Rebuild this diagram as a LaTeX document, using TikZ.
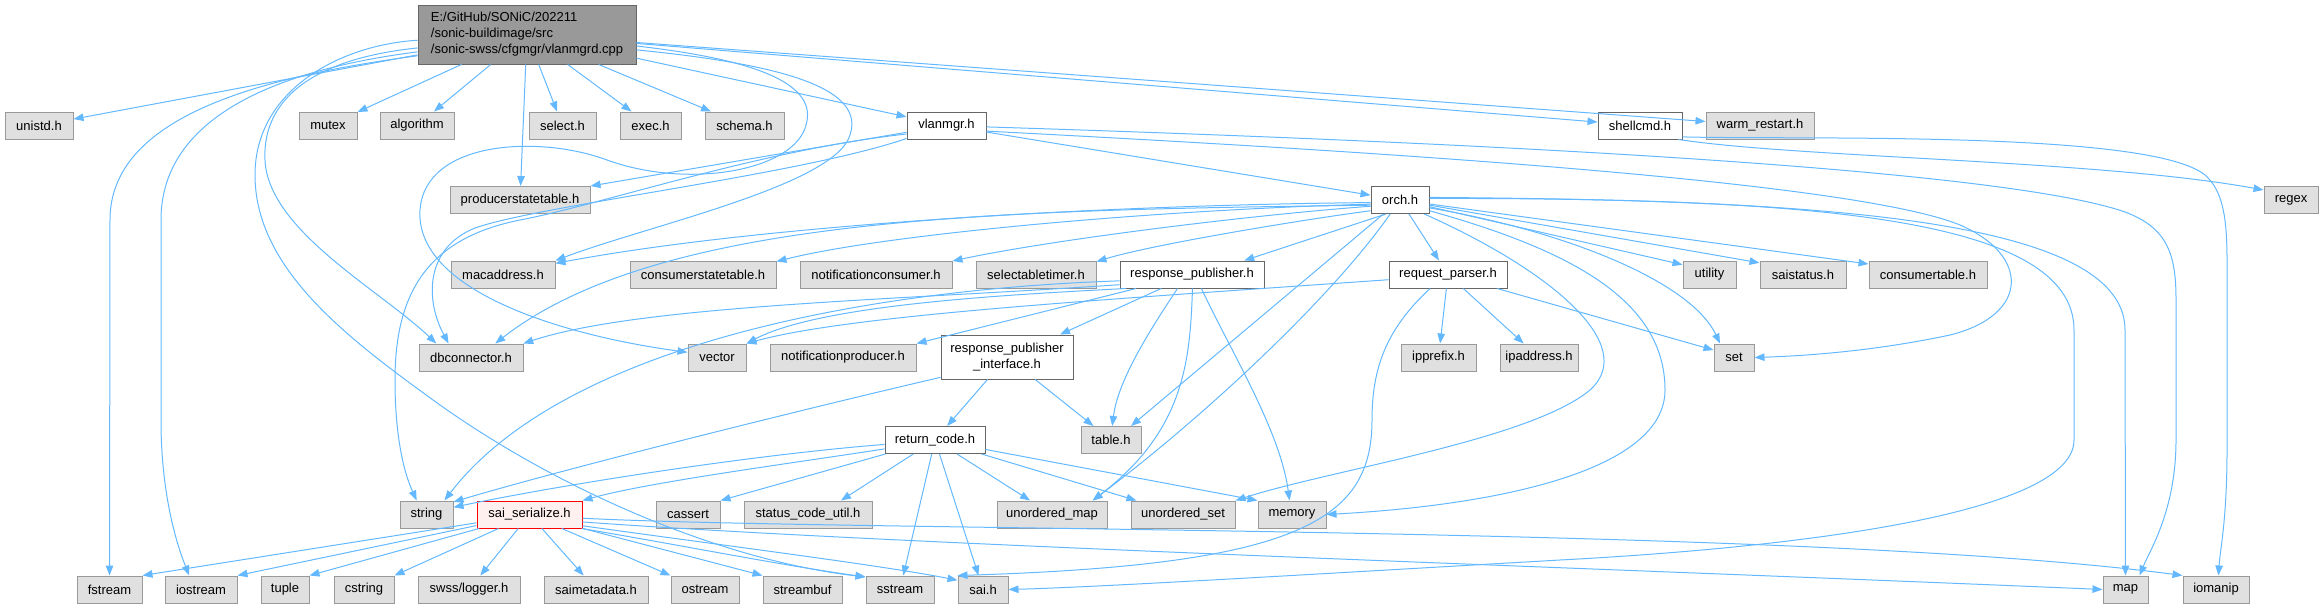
\documentclass[tikz,border=0pt]{standalone}
\usepackage{fontspec}
\setmainfont{Liberation Sans}
\usetikzlibrary{arrows.meta}
\definecolor{edgec}{HTML}{63B8FF}
\definecolor{gfill}{HTML}{E0E0E0}
\definecolor{gborder}{HTML}{999999}
\definecolor{wborder}{HTML}{666666}
\definecolor{mfill}{HTML}{999999}
\definecolor{rfill}{HTML}{FFF0F0}
\definecolor{rborder}{HTML}{FF0000}
\tikzset{
  gn/.style={draw=gborder, fill=gfill, line width=1pt, minimum height=27pt, inner sep=0pt, minimum width=#1},
  wn/.style={gn=#1, draw=wborder, fill=white},
  e/.style={draw=edgec, line width=1pt, -{Triangle[length=10pt,width=7.5pt]}},
}
\begin{document}
\begin{tikzpicture}[x=1pt,y=-1pt,font=\fontsize{13}{16}\selectfont]
\useasboundingbox (0,0) rectangle (2323,608);
% nodes
\node[draw=wborder, fill=mfill, line width=1pt, minimum width=218pt, minimum height=59pt, inner sep=0pt, align=left] (main) at (527,34.5) {E:/GitHub/SONiC/202211\\/sonic-buildimage/src\\/sonic-swss/cfgmgr/vlanmgrd.cpp};
% rank 1
\node[gn=68pt] (unistd) at (39,125.5) {unistd.h};
\node[gn=58pt] (mutex) at (328,125.5) {mutex};
\node[gn=74pt] (algorithm) at (417,125.5) {algorithm};
\node[gn=67pt] (selecth) at (562.5,125.5) {select.h};
\node[gn=61pt] (exech) at (650.5,125.5) {exec.h};
\node[gn=79pt] (schema) at (744.5,125.5) {schema.h};
\node[wn=79pt] (vlanmgr) at (946.5,125.5) {vlanmgr.h};
\node[wn=84pt] (shellcmd) at (1640,125.5) {shellcmd.h};
\node[gn=108pt] (warm) at (1760,125.5) {warm\_restart.h};
% rank 2
\node[gn=140pt] (pst) at (520,200) {producerstatetable.h};
\node[wn=58pt] (orch) at (1400,200) {orch.h};
\node[gn=54pt] (regex) at (2291,200) {regex};
% rank 3
\node[gn=104pt] (macaddr) at (503,274.5) {macaddress.h};
\node[gn=146pt] (cst) at (703,274.5) {consumerstatetable.h};
\node[gn=152pt] (ncons) at (876,274.5) {notificationconsumer.h};
\node[gn=120pt] (stimer) at (1036,274.5) {selectabletimer.h};
\node[wn=144pt] (rpub) at (1192,274.5) {response\_publisher.h};
\node[wn=118pt] (rparser) at (1448,274.5) {request\_parser.h};
\node[gn=53pt] (utility) at (1709.5,274.5) {utility};
\node[gn=86pt] (saistatus) at (1803,274.5) {saistatus.h};
\node[gn=118pt] (ctable) at (1928,274.5) {consumertable.h};
% rank 4
\node[gn=104pt] (dbconn) at (471,357.5) {dbconnector.h};
\node[gn=58pt] (vector) at (717,357.5) {vector};
\node[gn=146pt] (nprod) at (843,357.5) {notificationproducer.h};
\node[wn=132pt, minimum height=44pt, align=center] (rpi) at (1007,357) {response\_publisher\\\_interface.h};
\node[gn=75pt] (ipprefix) at (1438.5,357.5) {ipprefix.h};
\node[gn=78pt] (ipaddr) at (1539,357.5) {ipaddress.h};
\node[gn=40pt] (set) at (1734,357.5) {set};
% rank 5
\node[wn=100pt] (retcode) at (935,440) {return\_code.h};
\node[gn=60pt] (table) at (1111,440) {table.h};
% rank 6
\node[gn=53pt] (string) at (426.5,514.5) {string};
\node[gn=105pt, draw=rborder, fill=rfill] (saiser) at (529.5,514.5) {sai\_serialize.h};
\node[gn=64pt] (cassert) at (688,514.5) {cassert};
\node[gn=128pt] (scu) at (808,514.5) {status\_code\_util.h};
\node[gn=110pt] (umap) at (1052,514.5) {unordered\_map};
\node[gn=104pt] (uset) at (1183,514.5) {unordered\_set};
\node[gn=68pt] (memory) at (1292,514.5) {memory};
% rank 7
\node[gn=65pt] (fstream) at (109.5,589.5) {fstream};
\node[gn=72pt] (iostream) at (201,589.5) {iostream};
\node[gn=48pt] (tuple) at (285,589.5) {tuple};
\node[gn=60pt] (cstring) at (364,589.5) {cstring};
\node[gn=102pt] (logger) at (469,589.5) {swss/logger.h};
\node[gn=104pt] (saimeta) at (596,589.5) {saimetadata.h};
\node[gn=68pt] (ostream) at (705,589.5) {ostream};
\node[gn=79pt] (streambuf) at (802.5,589.5) {streambuf};
\node[gn=68pt] (sstream) at (900,589.5) {sstream};
\node[gn=50pt] (sai) at (983,589.5) {sai.h};
\node[gn=45pt] (map) at (2125.5,589.5) {map};
\node[gn=66pt] (iomanip) at (2216,589.5) {iomanip};

% main edges
\draw[e] (main) -- (unistd);
\draw[e] (main) -- (mutex);
\draw[e] (main) -- (algorithm);
\draw[e] (main) -- (pst);
\draw[e] (main) -- (selecth);
\draw[e] (main) -- (exech);
\draw[e] (main) -- (schema);
\draw[e] (main) -- (vlanmgr);
\draw[e] (main) -- (shellcmd);
\draw[e] (main) -- (warm);
\draw[e] (main.187) .. controls (320,58) and (262,95) .. (265,160) .. controls (268,230) and (380,290) .. (dbconn.158);
\draw[e] (main.183) .. controls (340,45) and (255,90) .. (255,175) .. controls (255,270) and (350,340) .. (440,405) .. controls (560,490) and (720,560) .. (sstream.160);
\draw[e] (main.191) .. controls (250,78) and (110,120) .. (110,220) -- (fstream);
\draw[e] (main.189) .. controls (260,72) and (161,125) .. (161,220) -- (161,420) .. controls (161,490) and (175,540) .. (iostream.130);
\draw[e] (main.354) .. controls (760,60) and (818,85) .. (806,125) .. controls (795,170) and (690,190) .. (607,160) .. controls (540,135) and (425,140) .. (420,210) .. controls (415,290) and (560,335) .. (vector.170);
\draw[e] (main.352) .. controls (790,65) and (865,90) .. (850,135) .. controls (835,185) and (650,225) .. (macaddr.north east);

% vlanmgr edges
\draw[e] (vlanmgr) -- (pst.north east);
\draw[e] (vlanmgr.198) .. controls (800,175) and (540,205) .. (475,228) .. controls (425,248) and (425,300) .. (dbconn.148);
\draw[e] (vlanmgr.192) .. controls (760,150) and (600,205) .. (520,220) .. controls (430,238) and (395,290) .. (395,380) .. controls (395,440) and (405,475) .. (string.125);
\draw[e] (vlanmgr) -- (orch);
\draw[e] (vlanmgr.358) .. controls (1400,140) and (1990,165) .. (2125,212) .. controls (2168,228) and (2176,255) .. (2176,300) -- (2176,440) .. controls (2176,510) and (2150,550) .. (map.45);
\draw[e] (vlanmgr.352) .. controls (1350,150) and (1850,180) .. (1960,225) .. controls (2030,255) and (2030,315) .. (1950,335) .. controls (1870,352) and (1800,356) .. (set.east);

% shellcmd edges
\draw[e] (shellcmd.340) .. controls (1800,158) and (2100,160) .. (regex.160);
\draw[e] (shellcmd.345) .. controls (1800,140) and (2150,130) .. (2205,175) .. controls (2222,190) and (2227,215) .. (2227,260) -- (2227,450) .. controls (2227,520) and (2220,550) .. (iomanip.80);

% orch edges
\draw[e] (orch.185) .. controls (1100,205) and (760,225) .. (macaddr.12);
\draw[e] (orch.188) .. controls (1150,210) and (880,235) .. (cst.10);
\draw[e] (orch.192) .. controls (1250,215) and (1050,240) .. (ncons.10);
\draw[e] (orch.200) .. controls (1300,220) and (1150,245) .. (stimer.12);
\draw[e] (orch.225) -- (rpub.15);
\draw[e] (orch) -- (rparser);
\draw[e] (orch) -- (utility.160);
\draw[e] (orch) -- (saistatus.165);
\draw[e] (orch) -- (ctable.170);
\draw[e] (orch.190) .. controls (1000,210) and (660,215) .. (dbconn.30);
\draw[e] (orch) -- (table.35);
\draw[e] (orch) .. controls (1330,300) and (1200,420) .. (umap.19);
\draw[e] (orch.330) .. controls (1550,270) and (1640,345) .. (1590,390) .. controls (1530,440) and (1330,470) .. (uset.north east);
\draw[e] (orch.340) .. controls (1570,250) and (1665,300) .. (1665,390) .. controls (1665,470) and (1500,505) .. (memory.east);
\draw[e] (orch.345) .. controls (1560,230) and (1690,280) .. (set.135);
\draw[e] (orch.5) .. controls (1800,200) and (2125,215) .. (2125,330) -- (map);
\draw[e] (orch.3) .. controls (1800,198) and (2074,215) .. (2074,330) -- (2074,440) .. controls (2074,520) and (1750,550) .. (1560,560) .. controls (1300,575) and (1100,587) .. (sai.east);

% response_publisher edges
\draw[e] (rpub.188) .. controls (900,300) and (640,305) .. (dbconn.15);
\draw[e] (rpub.192) .. controls (1000,295) and (820,305) .. (vector.north east);
\draw[e] (rpub.185) .. controls (850,290) and (560,350) .. (string.38);
\draw[e] (rpub) -- (nprod.north east);
\draw[e] (rpub) -- (rpi.23);
\draw[e] (rpub.224) .. controls (1150,330) and (1118,380) .. (table.85);
\draw[e] (rpub.272) .. controls (1190,360) and (1185,430) .. (umap.19);
\draw[e] (rpub.304) .. controls (1230,350) and (1280,430) .. (memory.100);

% request_parser edges
\draw[e] (rparser.185) .. controls (1100,300) and (850,315) .. (vector.north east);
\draw[e] (rparser) -- (ipprefix);
\draw[e] (rparser) -- (ipaddr);
\draw[e] (rparser) -- (set.160);
\draw[e] (rparser.218) .. controls (1385,330) and (1372,370) .. (1372,420) .. controls (1372,520) and (1300,565) .. (sai.north west);

% response_publisher_interface edges
\draw[e] (rpi) -- (retcode);
\draw[e] (rpi) -- (table);
\draw[e] (rpi.197) .. controls (800,410) and (560,470) .. (string.25);

% return_code edges
\draw[e] (retcode.185) .. controls (750,455) and (560,485) .. (string.15);
\draw[e] (retcode.190) .. controls (780,465) and (650,482) .. (saiser.north east);
\draw[e] (retcode) -- (cassert.north east);
\draw[e] (retcode) -- (scu.23);
\draw[e] (retcode) -- (sstream);
\draw[e] (retcode) -- (sai);
\draw[e] (retcode) -- (umap);
\draw[e] (retcode) -- (uset);
\draw[e] (retcode) -- (memory.north west);

% sai_serialize edges
\draw[e] (saiser) -- (fstream.north east);
\draw[e] (saiser) -- (iostream.north east);
\draw[e] (saiser) -- (tuple.north east);
\draw[e] (saiser) -- (cstring.north east);
\draw[e] (saiser) -- (logger);
\draw[e] (saiser) -- (saimeta);
\draw[e] (saiser) -- (ostream.north west);
\draw[e] (saiser) -- (streambuf.north west);
\draw[e] (saiser.345) .. controls (680,545) and (780,565) .. (sstream.160);
\draw[e] (saiser.348) .. controls (720,545) and (880,565) .. (sai.160);
\draw[e] (saiser.352) .. controls (900,545) and (1600,568) .. (map.west);
\draw[e] (saiser.356) .. controls (850,532) and (1800,525) .. (iomanip.north west);
\end{tikzpicture}
\end{document}
